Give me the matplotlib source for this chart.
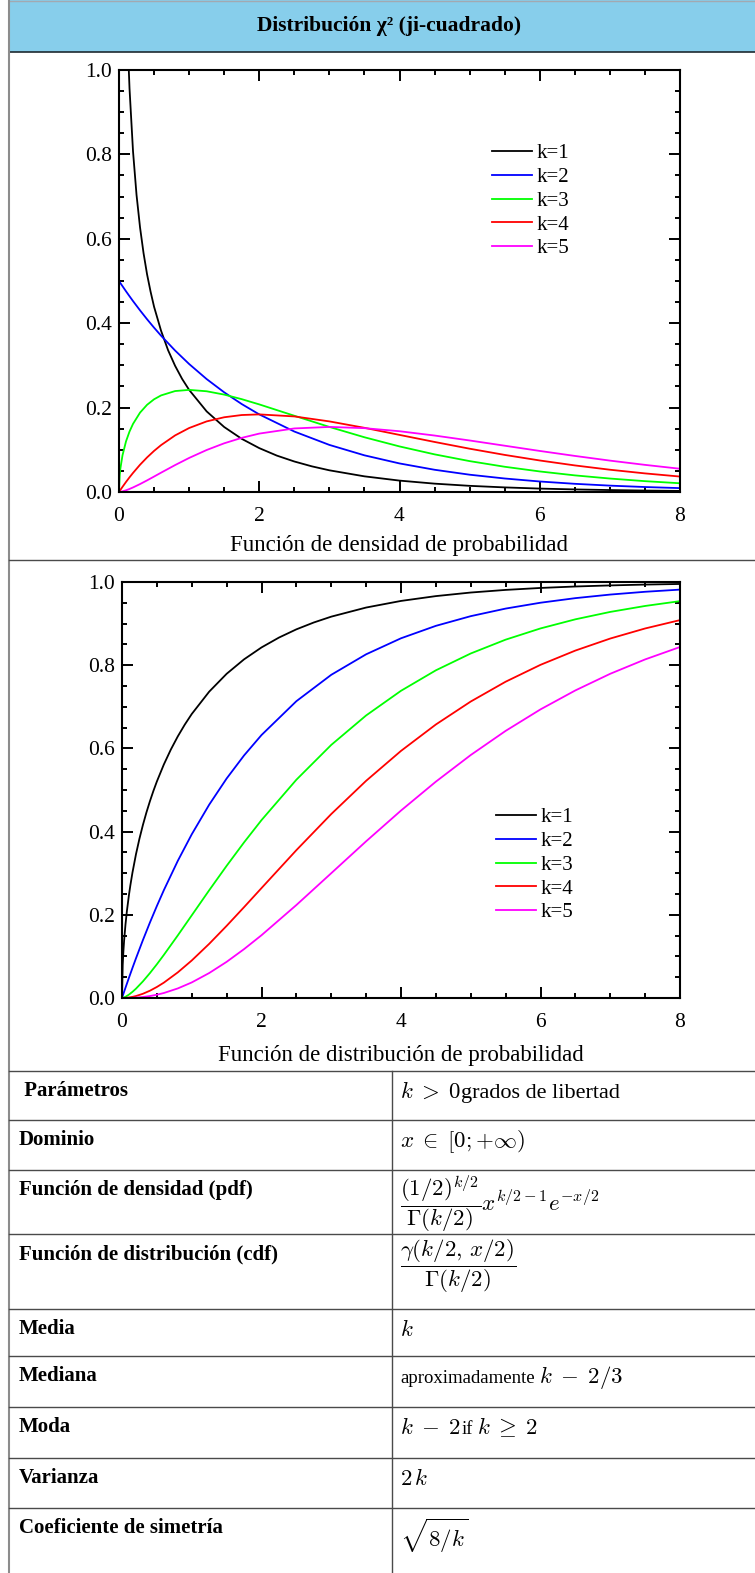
import numpy as np
import matplotlib
matplotlib.use('Agg')
import matplotlib.pyplot as plt
from matplotlib.patches import Rectangle
from matplotlib.ticker import MultipleLocator

plt.rcParams['font.family'] = ['Liberation Serif', 'DejaVu Serif']
plt.rcParams['mathtext.fontset'] = 'cm'

# ------------------------------------------------------------
# values
# ------------------------------------------------------------
# k=1 is steep near zero, so it was read on a finer grid
x_k1 = [0, 0.01, 0.02, 0.03, 0.05, 0.07, 0.1, 0.12, 0.15, 0.2, 0.25, 0.3,
        0.35, 0.4, 0.45, 0.5, 0.6, 0.7, 0.8, 0.9, 1.0, 1.25, 1.5, 1.75, 2.0,
        2.25, 2.5, 2.75, 3.0, 3.5, 4.0, 4.5, 5.0, 5.5, 6.0, 6.5, 7.0, 7.5, 8.0]
pdf_k1 = [np.nan, 3.97, 2.79, 2.269, 1.740, 1.456, 1.200, 1.085, 0.956, 0.807,
          0.704, 0.627, 0.566, 0.516, 0.475, 0.439, 0.382, 0.336, 0.299, 0.268,
          0.242, 0.191, 0.154, 0.126, 0.104, 0.0863, 0.0723, 0.0608, 0.0514,
          0.0371, 0.0270, 0.0198, 0.0146, 0.0109, 0.0081, 0.0061, 0.0046,
          0.0034, 0.0026]
cdf_k1 = [0, 0.0797, 0.1125, 0.1375, 0.1769, 0.2087, 0.2482, 0.2710, 0.3015,
          0.3453, 0.3829, 0.4161, 0.4459, 0.4729, 0.4977, 0.5205, 0.5614,
          0.5972, 0.6289, 0.6572, 0.6827, 0.7364, 0.7793, 0.8141, 0.8427,
          0.8664, 0.8862, 0.9027, 0.9167, 0.9386, 0.9545, 0.9661, 0.9747,
          0.9810, 0.9857, 0.9892, 0.9918, 0.9938, 0.9953]

x_vals = [0, 0.01, 0.02, 0.05, 0.1, 0.15, 0.2, 0.3, 0.4, 0.5, 0.6, 0.8, 1.0,
          1.25, 1.5, 1.75, 2.0, 2.5, 3.0, 3.5, 4.0, 4.5, 5.0, 5.5, 6.0, 6.5,
          7.0, 7.5, 8.0]
pdf_k2 = [0.500, 0.4975, 0.4950, 0.4877, 0.4756, 0.4639, 0.4524, 0.4304,
          0.4094, 0.3894, 0.3704, 0.3352, 0.3033, 0.2676, 0.2362, 0.2084,
          0.1839, 0.1433, 0.1116, 0.0869, 0.0677, 0.0527, 0.0410, 0.0320,
          0.0249, 0.0194, 0.0151, 0.0118, 0.0092]
pdf_k3 = [0, 0.0397, 0.0559, 0.0870, 0.1200, 0.1433, 0.1614, 0.1881, 0.2066,
          0.2197, 0.2289, 0.2392, 0.2420, 0.2387, 0.2308, 0.2200, 0.2076,
          0.1807, 0.1542, 0.1297, 0.1080, 0.0892, 0.0732, 0.0598, 0.0487,
          0.0394, 0.0319, 0.0257, 0.0207]
pdf_k4 = [0, 0.0025, 0.0050, 0.0122, 0.0238, 0.0348, 0.0452, 0.0646, 0.0819,
          0.0974, 0.1111, 0.1341, 0.1516, 0.1673, 0.1771, 0.1824, 0.1839,
          0.1791, 0.1673, 0.1521, 0.1353, 0.1186, 0.1026, 0.0879, 0.0747,
          0.0630, 0.0528, 0.0441, 0.0366]
pdf_k5 = [0, 0.0001, 0.0004, 0.0015, 0.0040, 0.0072, 0.0108, 0.0188, 0.0275,
          0.0366, 0.0458, 0.0638, 0.0807, 0.0995, 0.1154, 0.1283, 0.1384,
          0.1506, 0.1542, 0.1513, 0.1440, 0.1338, 0.1221, 0.1097, 0.0973,
          0.0855, 0.0744, 0.0643, 0.0551]

cdf_k2 = [0, 0.0050, 0.0100, 0.0247, 0.0488, 0.0723, 0.0952, 0.1393, 0.1813,
          0.2212, 0.2592, 0.3297, 0.3935, 0.4647, 0.5276, 0.5831, 0.6321,
          0.7135, 0.7769, 0.8262, 0.8647, 0.8946, 0.9179, 0.9361, 0.9502,
          0.9612, 0.9698, 0.9765, 0.9817]
cdf_k3 = [0, 0.0003, 0.0008, 0.0029, 0.0082, 0.0148, 0.0224, 0.0400, 0.0598,
          0.0811, 0.1036, 0.1505, 0.1987, 0.2590, 0.3177, 0.3741, 0.4276,
          0.5247, 0.6084, 0.6792, 0.7385, 0.7877, 0.8282, 0.8614, 0.8884,
          0.9103, 0.9281, 0.9424, 0.9540]
cdf_k4 = [0, 0.0000, 0.0001, 0.0003, 0.0012, 0.0027, 0.0047, 0.0102, 0.0175,
          0.0265, 0.0369, 0.0616, 0.0902, 0.1302, 0.1734, 0.2184, 0.2642,
          0.3554, 0.4422, 0.5221, 0.5940, 0.6575, 0.7127, 0.7603, 0.8009,
          0.8352, 0.8641, 0.8883, 0.9084]
cdf_k5 = [0, 0.0000, 0.0000, 0.0000, 0.0002, 0.0004, 0.0009, 0.0024, 0.0047,
          0.0079, 0.0120, 0.0230, 0.0374, 0.0600, 0.0869, 0.1175, 0.1509,
          0.2235, 0.3000, 0.3767, 0.4506, 0.5201, 0.5841, 0.6421, 0.6938,
          0.7394, 0.7794, 0.8139, 0.8437]

k_labels = ['k=1', 'k=2', 'k=3', 'k=4', 'k=5']
line_colors = ['black', '#0000ff', '#00ff00', '#ff0000', '#ff00ff']
x_ticks = [0, 2, 4, 6, 8]
y_ticks = [0.0, 0.2, 0.4, 0.6, 0.8, 1.0]

title = 'Distribución χ² (ji-cuadrado)'
captions = ['Función de densidad de probabilidad',
            'Función de distribución de probabilidad']

row_labels = [' Parámetros', 'Dominio', 'Función de densidad (pdf)',
              'Función de distribución (cdf)', 'Media', 'Mediana', 'Moda',
              'Varianza', 'Coeficiente de simetría']
# 'm' = formula, 't' = plain text, 's' = small plain text
row_values = [
    [(r'$k\;>\;0$', 'm'), ('grados de libertad', 't')],
    [(r'$x\;\in\;[0;{+}\infty)$', 'm')],
    [(r'$\dfrac{(1/2)^{k/2}}{\Gamma(k/2)}x^{k/2-1}e^{-x/2}$', 'm')],
    [(r'$\dfrac{\gamma(k/2,\,x/2)}{\Gamma(k/2)}$', 'm')],
    [(r'$k$', 'm')],
    [('aproximadamente ', 's'), (r'$k\;-\;2/3$', 'm')],
    [(r'$k\;-\;2$', 'm'), ('if ', 's'), (r'$k\;\geq\;2$', 'm')],
    [(r'$2\,k$', 'm')],
    [(r'$\sqrt{8/k}$', 'm')],
]
piece_sizes = {'m': 16.5, 't': 16, 's': 13.5}

# ------------------------------------------------------------
# layout (pixels)
# ------------------------------------------------------------
W, H = 755, 1573
row_tops = [1071, 1120, 1170, 1234, 1309, 1356, 1407, 1458, 1508]
col_x = 392

fig = plt.figure(figsize=(W / 100, H / 100), dpi=100)
bg = fig.add_axes([0, 0, 1, 1], zorder=0)
bg.set_xlim(0, W)
bg.set_ylim(H, 0)
bg.axis('off')

line_col = '#4a4a4a'

# header
bg.add_patch(Rectangle((9, 0), W - 9, 52, facecolor='#87ceeb', edgecolor='none'))
bg.plot([9, W], [1, 1], color='#a2a9b1', lw=1)
bg.plot([9, W], [52, 52], color='#1e2a30', lw=1.2)
bg.text(389, 26, title, fontsize=15.5, fontweight='bold', ha='center', va='center')

# frame lines
bg.plot([9, 9], [0, H], color='#8c8c8c', lw=1.5)
for y in [560] + row_tops:
    bg.plot([9, W], [y, y], color=line_col, lw=1)
bg.plot([col_x, col_x], [row_tops[0], H], color=line_col, lw=1)


def px_axes(left, top, right, bottom):
    return fig.add_axes([left / W, 1 - bottom / H, (right - left) / W, (bottom - top) / H])


def draw_chart(ax, curves, leg_x, leg_y):
    for (xs, vals), col, lab in zip(curves, line_colors, k_labels):
        ax.plot(xs, vals, color=col, lw=1.3, label=lab)
    ax.set_xlim(0, 8)
    ax.set_ylim(0, 1)
    ax.set_xticks(x_ticks)
    ax.set_yticks(y_ticks)
    ax.set_yticklabels(['%.1f' % v for v in y_ticks])
    ax.xaxis.set_minor_locator(MultipleLocator(0.5))
    ax.yaxis.set_minor_locator(MultipleLocator(0.05))
    ax.tick_params(which='both', direction='in', top=True, right=True,
                   width=1.4, labelsize=15.5)
    ax.tick_params(which='major', length=8)
    ax.tick_params(which='minor', length=3.8)
    ax.tick_params(axis='x', pad=11)
    ax.tick_params(axis='y', pad=5)
    for sp in ax.spines.values():
        sp.set_linewidth(1.5)
    ax.legend(loc='center left', bbox_to_anchor=(leg_x / W, 1 - leg_y / H),
              bbox_transform=fig.transFigure, frameon=False, fontsize=15,
              handlelength=1.9, handletextpad=0.25, labelspacing=0.2,
              borderaxespad=0, borderpad=0)


ax1 = px_axes(119, 70, 680, 492)
draw_chart(ax1, [(x_k1, pdf_k1), (x_vals, pdf_k2), (x_vals, pdf_k3),
                 (x_vals, pdf_k4), (x_vals, pdf_k5)], 492, 201)
fig.text(399 / W, 1 - 546 / H, captions[0], fontsize=16.5, ha='center', va='center')

ax2 = px_axes(122, 582, 680, 998)
draw_chart(ax2, [(x_k1, cdf_k1), (x_vals, cdf_k2), (x_vals, cdf_k3),
                 (x_vals, cdf_k4), (x_vals, cdf_k5)], 496, 865)
fig.text(401 / W, 1 - 1056 / H, captions[1], fontsize=16.5, ha='center', va='center')

# table
renderer = fig.canvas.get_renderer()
for i, (lab, pieces) in enumerate(zip(row_labels, row_values)):
    top = row_tops[i]
    bg.text(19, top + 20, lab, fontsize=15, fontweight='bold', ha='left', va='center')
    x = 400
    tall = any('frac' in p[0] or 'sqrt' in p[0] for p in pieces)
    for txt, kind in pieces:
        size = piece_sizes[kind]
        if tall:
            t = bg.text(x, top + (9 if 'sqrt' in txt else 4), txt, fontsize=size,
                        ha='left', va='top')
        else:
            t = bg.text(x, top + 27, txt.strip(), fontsize=size, ha='left', va='baseline')
        bb = t.get_window_extent(renderer)
        x = bb.x1 + (4 if txt.endswith(' ') else 0)

fig.savefig('out.png', dpi=100)
